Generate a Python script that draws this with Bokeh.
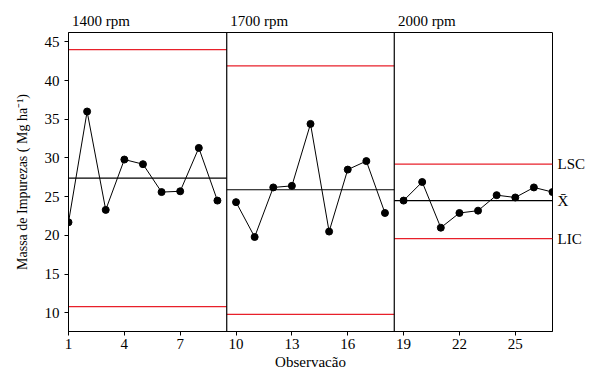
from bokeh.plotting import figure
from bokeh.models import Range1d, FixedTicker, Span, LinearAxis
from bokeh.embed import file_html
from bokeh.resources import INLINE

# ---- data ----
stages = ["1400 rpm", "1700 rpm", "2000 rpm"]
obs_1400 = [1, 2, 3, 4, 5, 6, 7, 8, 9]
val_1400 = [21.7, 36.0, 23.3, 29.8, 29.2, 25.6, 25.7, 31.3, 24.5]
obs_1700 = [10, 11, 12, 13, 14, 15, 16, 17, 18]
val_1700 = [24.3, 19.8, 26.2, 26.4, 34.4, 20.5, 28.5, 29.6, 22.9]
obs_2000 = [19, 20, 21, 22, 23, 24, 25, 26, 27]
val_2000 = [24.5, 26.9, 21.0, 22.9, 23.2, 25.2, 24.9, 26.2, 25.6]
ucl = [44.0, 41.9, 29.2]
mean = [27.4, 25.9, 24.5]
lcl = [10.8, 9.8, 19.6]
x_ticks = [1, 4, 7, 10, 13, 16, 19, 22, 25]
y_ticks = [10, 15, 20, 25, 30, 35, 40, 45]
right_labels = ["LSC", "X\u0304", "LIC"]

FONT = "Liberation Serif"
X0, X1 = 1, 27
Y0, Y1 = 7.6, 46.2

p = figure(width=588, height=375, output_backend="svg", toolbar_location=None,
           x_range=Range1d(X0, X1), y_range=Range1d(Y0, Y1),
           min_border_left=68, min_border_right=34, min_border_top=32, min_border_bottom=44)
p.grid.visible = False
p.outline_line_color = "black"
p.outline_line_width = 1
p.background_fill_color = "white"
p.border_fill_color = "white"

p.xaxis.ticker = FixedTicker(ticks=x_ticks)
p.yaxis.ticker = FixedTicker(ticks=y_ticks)
for ax in (p.xaxis[0], p.yaxis[0]):
    ax.major_label_text_font = FONT
    ax.major_label_text_font_size = "15px"
    ax.major_label_text_color = "black"
    ax.axis_label_text_font = FONT
    ax.axis_label_text_font_size = "14px"
    ax.axis_label_text_font_style = "normal"
    ax.axis_label_text_color = "black"
    ax.axis_line_color = "black"
    ax.major_tick_line_color = "black"
    ax.major_tick_in = 0
    ax.major_tick_out = 4
    ax.minor_tick_line_color = None
p.xaxis.axis_label = "Observacão"
p.xaxis.axis_label_text_font_size = "15px"
p.xaxis.axis_label_standoff = 2
p.xaxis.major_label_standoff = 3
p.yaxis.axis_label = "Massa de Impurezas ( Mg ha\u207b\u00b9)"
p.yaxis.axis_label_standoff = 12

groups = [(obs_1400, val_1400), (obs_1700, val_1700), (obs_2000, val_2000)]
stage_label_pos = []
for i, (xs, ys) in enumerate(groups):
    left = max(X0, xs[0] - 0.5)
    right = min(X1, xs[-1] + 0.5)
    p.line([left, right], [ucl[i], ucl[i]], line_color="#e8202a", line_width=1.3)
    p.line([left, right], [lcl[i], lcl[i]], line_color="#e8202a", line_width=1.3)
    p.line([left, right], [mean[i], mean[i]], line_color="black", line_width=1.2)
    p.line(xs, ys, line_color="black", line_width=1)
    p.scatter(xs, ys, size=7, color="black")
    if i > 0:
        p.add_layout(Span(location=left, dimension="height", line_color="black", line_width=1.2))
    stage_label_pos.append(left + 1.75)

# stage titles above the frame
top = LinearAxis(ticker=FixedTicker(ticks=stage_label_pos),
                 major_label_overrides={v: s for v, s in zip(stage_label_pos, stages)})
top.axis_line_color = None
top.major_tick_line_color = None
top.minor_tick_line_color = None
top.major_tick_in = 0
top.major_tick_out = 0
top.major_label_standoff = 4
top.major_label_text_font = FONT
top.major_label_text_font_size = "15px"
top.major_label_text_color = "black"
p.add_layout(top, "above")

# control-limit labels on the right
last_vals = [ucl[-1], mean[-1], lcl[-1]]
right = LinearAxis(ticker=FixedTicker(ticks=last_vals),
                   major_label_overrides={v: s for v, s in zip(last_vals, right_labels)})
right.axis_line_color = None
right.major_tick_line_color = None
right.minor_tick_line_color = None
right.major_tick_in = 0
right.major_tick_out = 0
right.major_label_standoff = 5
right.major_label_text_font = FONT
right.major_label_text_font_size = "15px"
right.major_label_text_color = "black"
p.add_layout(right, "right")

open("out.html", "w").write(file_html(p, INLINE))
